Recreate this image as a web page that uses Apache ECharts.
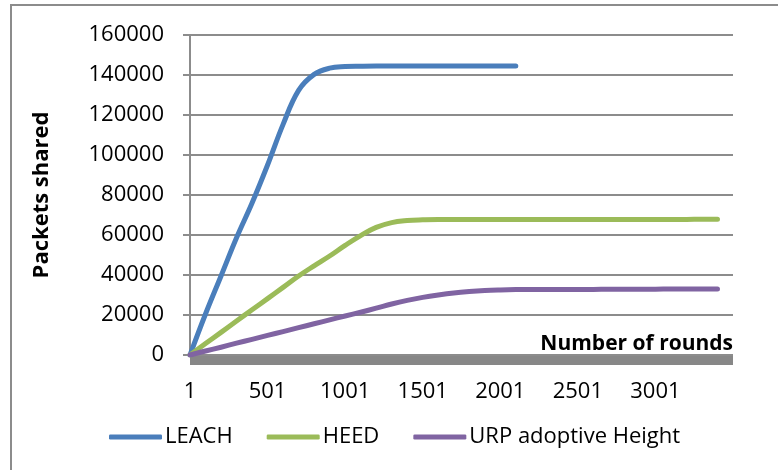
<!DOCTYPE html>
<html>
<head>
<meta charset="utf-8">
<script src="https://cdn.jsdelivr.net/npm/echarts@6/dist/echarts.min.js"></script>
<style>
  html, body { margin: 0; padding: 0; background: #fff; }
  #main { width: 778px; height: 470px; }
</style>
</head>
<body>
<div id="main"></div>
<script>
// rounds sampled every 100
const rounds = [1, 101, 201, 301, 401, 501, 601, 701, 801, 901, 1001, 1101, 1201, 1301, 1401, 1501, 1601, 1701, 1801, 1901, 2001, 2101,
  2201, 2301, 2401, 2501, 2601, 2701, 2801, 2901, 3001, 3101, 3201, 3301, 3401];

const leach = [0, 20500, 39500, 58600, 76000, 95000, 115300, 132300, 140300, 143400, 144200, 144400, 144500, 144500, 144500, 144500,
  144500, 144500, 144500, 144500, 144500, 144500];

const heed = [0, 5700, 11300, 17000, 22600, 28200, 33800, 39500, 44600, 49500, 54800, 59700, 63800, 66200, 67200, 67600, 67800,
  67800, 67800, 67800, 67800, 67800, 67800, 67800, 67800, 67800, 67800, 67800, 67800, 67800, 67800, 67800, 67800, 67900, 67900];

const urp = [0, 2000, 3900, 5900, 7800, 9800, 11700, 13700, 15600, 17600, 19500, 21400, 23400, 25500, 27300, 28800, 30000, 31000,
  31700, 32200, 32500, 32700, 32800, 32800, 32800, 32800, 32800, 32900, 32900, 32900, 32900, 33000, 33000, 33000, 33000];

const seriesNames = ['LEACH', 'HEED', 'URP adoptive Height'];
const colors = ['#4a7ebb', '#9bbb59', '#8064a2'];

function pairs(vals) {
  return vals.map((v, i) => [rounds[i], v]);
}

const chart = echarts.init(document.getElementById('main'));
const font = '"Open Sans", sans-serif';
const gridColor = '#8c8c8c';

const option = {
  animation: false,
  color: colors,
  textStyle: { fontFamily: font },
  graphic: [{
    type: 'rect',
    shape: { x: 11, y: 5, width: 900, height: 600 },
    style: { fill: 'none', stroke: '#8c8c8c', lineWidth: 2 },
    silent: true
  }],
  grid: { left: 190, right: 45, top: 35, bottom: 115 },
  legend: {
    left: 104,
    top: 421,
    icon: 'roundRect',
    itemWidth: 53,
    itemHeight: 5,
    itemGap: 34,
    textStyle: { fontFamily: font, fontSize: 22, color: '#000', padding: [0, 0, 0, -2] },
    data: seriesNames
  },
  xAxis: {
    type: 'value',
    min: 1,
    max: 3501,
    interval: 500,
    offset: 5,
    name: 'Number of rounds',
    nameLocation: 'end',
    nameGap: 0,
    nameTextStyle: {
      fontFamily: font, fontSize: 21, fontWeight: 'bold', color: '#000',
      align: 'right', verticalAlign: 'bottom', padding: [0, 0, 5, 0]
    },
    axisLine: { show: true, onZero: false, lineStyle: { color: '#878787', width: 9, cap: 'butt' } },
    axisTick: { show: false },
    splitLine: { show: false },
    axisLabel: { showMaxLabel: false, margin: 21, fontSize: 22, color: '#000', fontFamily: font, formatter: v => String(v) }
  },
  yAxis: {
    type: 'value',
    min: 0,
    max: 160000,
    interval: 20000,
    name: 'Packets shared',
    nameLocation: 'middle',
    nameGap: 137,
    nameTextStyle: { fontFamily: font, fontSize: 22, fontWeight: 'bold', color: '#000' },
    axisLine: { show: true, lineStyle: { color: gridColor, width: 2 } },
    axisTick: { show: true, length: 7, lineStyle: { color: gridColor, width: 2 } },
    splitLine: { show: true, lineStyle: { color: gridColor, width: 2 } },
    axisLabel: { margin: 26, fontSize: 22, color: '#000', fontFamily: font, formatter: v => String(v) }
  },
  series: [leach, heed, urp].map((vals, i) => ({
    name: seriesNames[i],
    type: 'line',
    data: pairs(vals),
    smooth: 0.4,
    showSymbol: false,
    lineStyle: { width: 5, cap: 'round', join: 'round', color: colors[i] },
    itemStyle: { color: colors[i] }
  }))
};

chart.setOption(option);
</script>
</body>
</html>
